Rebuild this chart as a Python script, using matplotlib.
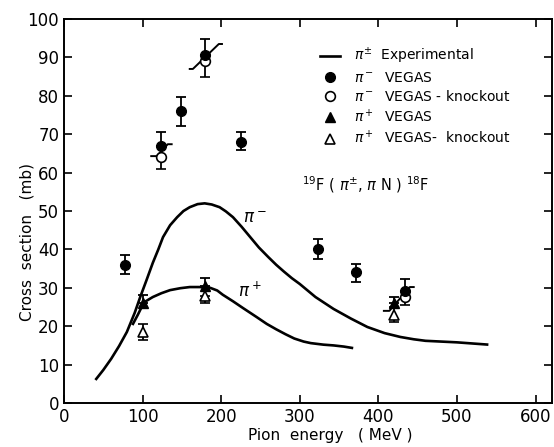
import numpy as np
import matplotlib
matplotlib.use("Agg")
import matplotlib.pyplot as plt
from matplotlib.lines import Line2D

plt.rcParams['font.family'] = ['DejaVu Sans']

# experimental curves
pim_x = [40, 50, 60, 70, 80, 90, 97, 105, 113, 120, 126, 135, 144, 152, 160, 170, 179, 188, 198, 206,
         215, 226, 237, 248, 260, 270, 280, 290, 300, 320, 343, 365, 386, 408, 428, 445, 460, 500, 540]
pim_y = [6, 8.6, 11.5, 14.8, 18.5, 23.5, 27.6, 32, 36.5, 40, 43.2, 46.3, 48.4, 50, 51, 51.8, 52, 51.7, 51, 49.9,
         48.4, 45.9, 43.2, 40.5, 38, 36, 34.2, 32.5, 31, 27.6, 24.5, 22, 19.8, 18.2, 17.2, 16.6, 16.2, 15.8, 15.2]
pip_x = [87, 94, 100, 104, 113, 124, 135, 148, 160, 173, 186, 195, 202, 215, 228, 245, 258, 270, 282,
         293, 305, 314, 330, 343, 356, 368]
pip_y = [20.3, 23, 25.5, 26.5, 27.6, 28.6, 29.4, 29.9, 30.2, 30.2, 30, 29.3, 28.2, 26.5, 24.7, 22.4, 20.6,
         19.2, 17.9, 16.8, 16, 15.6, 15.2, 15.0, 14.7, 14.3]

# VEGAS points
vm_x = [77, 124, 149, 180, 225, 323, 372, 434]
vm_y = [36, 67, 76, 90.7, 68, 40.2, 34, 29.2]
vm_lo = [2.5, 0, 3.9, 0, 2.2, 2.6, 2.5, 0]
vm_hi = [2.5, 3.7, 3.7, 4.1, 2.5, 2.6, 2.3, 3.1]

vmk_x = [124, 180, 434]
vmk_y = [64, 89, 27.5]
vmk_lo = [3, 4, 2]
vmk_hi = [0, 0, 0]

vp_x = [100, 180, 420]
vp_y = [26, 30.4, 26]
vp_lo = [0, 0, 0]
vp_hi = [2.2, 2.1, 1.7]

vpk_x = [101, 180, 420]
vpk_y = [18.5, 28, 23]
vpk_lo = [2, 2, 2]
vpk_hi = [2, 0, 2]

# little slanted range marks
z1_x = [160, 164, 197, 201]
z1_y = [87, 87, 93.5, 93.5]
z2_x = [111, 118, 132, 137]
z2_y = [64.3, 64.3, 67.4, 67.4]
z3_x = [407, 414, 440, 445]
z3_y = [24, 24, 30.2, 30.2]

fig = plt.figure(figsize=(5.54, 4.47), dpi=100)
ax = fig.add_axes([0.1155, 0.0984, 0.881, 0.859])

lw = 1.9
ax.plot(pim_x, pim_y, color='black', lw=lw, solid_capstyle='butt')
ax.plot(pip_x, pip_y, color='black', lw=lw, solid_capstyle='butt')
for zx, zy in [(z1_x, z1_y), (z2_x, z2_y), (z3_x, z3_y)]:
    ax.plot(zx, zy, color='black', lw=1.4)

ekw = dict(ecolor='black', elinewidth=1.3, capsize=3.5, capthick=1.3, linestyle='none', markersize=7)
ax.errorbar(vpk_x, vpk_y, yerr=[vpk_lo, vpk_hi], marker='^', mfc='white', mec='black', mew=1.2, **ekw)
ax.errorbar(vp_x, vp_y, yerr=[vp_lo, vp_hi], marker='^', mfc='black', mec='black', **ekw)
ax.errorbar(vmk_x, vmk_y, yerr=[vmk_lo, vmk_hi], marker='o', mfc='white', mec='black', mew=1.2, **ekw)
ax.errorbar(vm_x, vm_y, yerr=[vm_lo, vm_hi], marker='o', mfc='black', mec='black', **ekw)

ax.text(228, 47, r'$\pi^-$', fontsize=12)
ax.text(221, 27.6, r'$\pi^+$', fontsize=12)
ax.text(303, 56.8, r'$^{19}$F ( $\pi^{\pm}$, $\pi$ N ) $^{18}$F', fontsize=10.5, va='center')

handles = [
    Line2D([], [], color='black', lw=lw),
    Line2D([], [], color='black', marker='o', ls='none', markersize=7),
    Line2D([], [], color='black', marker='o', mfc='white', mew=1.2, ls='none', markersize=7),
    Line2D([], [], color='black', marker='^', ls='none', markersize=7),
    Line2D([], [], color='black', marker='^', mfc='white', mew=1.2, ls='none', markersize=7),
]
labels = [r'$\pi^{\pm}$  Experimental', r'$\pi^-$  VEGAS', r'$\pi^-$  VEGAS - knockout',
          r'$\pi^+$  VEGAS', r'$\pi^+$  VEGAS-  knockout']
ax.legend(handles, labels, loc='upper left', bbox_to_anchor=(0.505, 0.955), frameon=False,
          fontsize=10, handlelength=1.4, labelspacing=0.3, handletextpad=1.0, borderpad=0.2)

ax.set_xlim(0, 621)
ax.set_ylim(0, 100)
ax.set_xticks(np.arange(0, 601, 100))
ax.set_yticks(np.arange(0, 101, 10))
ax.tick_params(direction='in', length=6, width=1.2, top=True, right=True, labelsize=12)
for s in ax.spines.values():
    s.set_linewidth(1.4)
ax.set_xlabel('Pion  energy   ( MeV )', fontsize=11)
ax.set_ylabel('Cross  section   (mb)', fontsize=11)
ax.xaxis.set_label_coords(0.545, -0.065)
ax.yaxis.set_label_coords(-0.06, 0.42)

fig.savefig('out.png', dpi=100)
